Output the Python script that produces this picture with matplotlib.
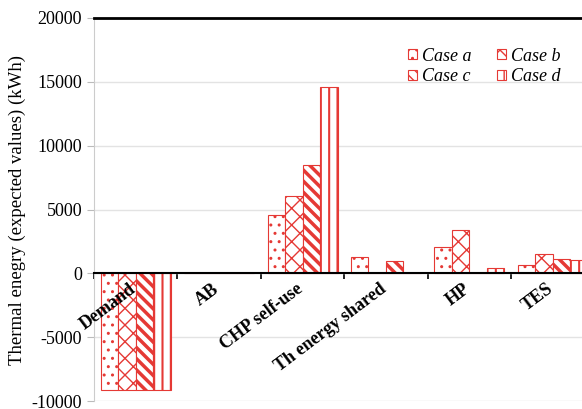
import numpy as np
import matplotlib.pyplot as plt

categories = ['Demand', 'AB', 'CHP self-use', 'Th energy shared', 'HP', 'TES']
case_a = [-9100, 0, 4600, 1300, 2100, 700]
case_b = [-9100, 0, 6100, 0, 3400, 1550]
case_c = [-9100, 0, 8500, 1000, 0, 1100]
case_d = [-9100, 0, 14600, 0, 400, 1050]
case_names = ['Case a', 'Case b', 'Case c', 'Case d']

RED = '#e53935'
plt.rcParams['font.family'] = ['Liberation Serif', 'DejaVu Serif']
plt.rcParams['axes.unicode_minus'] = False

fig = plt.figure(figsize=(5.82, 4.09), dpi=100)
ax = fig.add_axes([0.1615, 0.019, 0.86, 0.937])

x = np.arange(len(categories))
w = 0.21
hatches = ['..', 'xx', '\\\\\\', '||']
hlw = [1.0, 1.0, 2.5, 1.5]
series = [case_a, case_b, case_c, case_d]
bars = []
for k, (vals, name) in enumerate(zip(series, case_names)):
    with plt.rc_context({'hatch.linewidth': hlw[k], 'hatch.color': RED}):
        b = ax.bar(x + (k - 1.5) * w, vals, w, color='white', edgecolor=RED,
                   hatch=hatches[k], linewidth=0.8, label=name, zorder=3)
    bars.append(b)

ax.set_xlim(-0.5, 5.45)
ax.set_ylim(-10000, 20000)
ax.set_yticks(np.arange(-10000, 20001, 5000))
ax.yaxis.grid(True, color='#e3e3e3', linewidth=1, zorder=0)
ax.tick_params(axis='y', labelsize=13, color='#bbbbbb', length=5)

ax.spines['bottom'].set_position(('data', 0))
ax.spines['bottom'].set_color('black')
ax.spines['bottom'].set_linewidth(1.5)
ax.spines['bottom'].set_zorder(4)
ax.spines['top'].set_color('black')
ax.spines['top'].set_linewidth(2)
ax.spines['left'].set_color('#cccccc')
ax.spines['right'].set_visible(False)
ax.set_xticks(np.arange(-0.5, 6, 1))
ax.set_xticklabels([])
ax.tick_params(axis='x', direction='out', length=4, width=1.2)

for i, name in enumerate(categories):
    ax.text(i - 0.08, -550, name, rotation=37, ha='right', va='top',
            rotation_mode='anchor', fontsize=13, fontweight='bold', zorder=5)

ax.set_ylabel('Thermal enegry (expected values) (kWh)', fontsize=13.5, labelpad=4)

# legend order so rows read a, b / c, d
order = [0, 2, 1, 3]
ax.legend([bars[i] for i in order], [case_names[i] for i in order],
          loc='upper right', bbox_to_anchor=(0.965, 0.965), ncol=2, frameon=False,
          prop={'style': 'italic', 'size': 13}, handlelength=0.5, handleheight=0.5,
          handletextpad=0.3, columnspacing=1.4, labelspacing=0.2)

fig.savefig('out.png', dpi=100)
